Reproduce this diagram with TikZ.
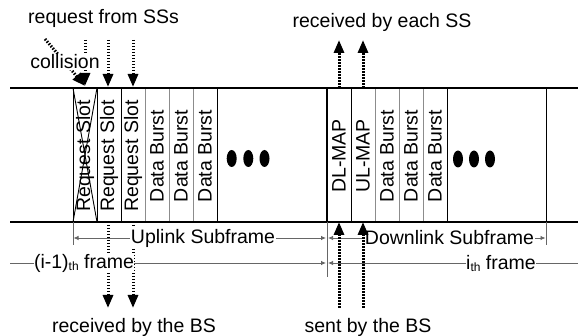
\documentclass[tikz,border=0pt]{standalone}
\usepackage{fontspec}
\setmainfont{Liberation Sans}
\usetikzlibrary{arrows.meta}
\newcommand{\thsub}{\raisebox{-2pt}{\fontsize{12}{12}\selectfont th}}
\begin{document}
\begin{tikzpicture}[x=1pt,y=-1pt,
  lbl/.style={font=\fontsize{19.5}{20}\selectfont, inner sep=1pt},
  wlbl/.style={lbl, fill=white, inner sep=0.5pt},
  slottxt/.style={font=\fontsize{19.5}{20}\selectfont, rotate=90, inner sep=0pt},
  bigline/.style={line width=2.8pt},
  sepline/.style={line width=0.9pt},
  gsepline/.style={line width=0.9pt, draw=black!45},
  dimline/.style={line width=0.8pt, draw=black!60},
  dimtip/.style={dimline, -{Latex[length=5pt,width=4.5pt]}},
  sig/.style={line width=3pt, dash pattern=on 1.5pt off 1.5pt, -{Triangle[length=13pt,width=10pt]}},
  dotmark/.style={fill=black}
]
\useasboundingbox (0,0) rectangle (578,336);

% ---- frame structure ----
\coordinate (tl) at (10,88);
\coordinate (tr) at (578,88);
\coordinate (bl) at (10,222);
\coordinate (br) at (578,222);

% slot separators (uplink)
\draw[sepline] (73,88) -- (73,222);
\draw[sepline] (97,88) -- (97,222);
\draw[sepline] (121,88) -- (121,222);
\draw[gsepline] (145,88) -- (145,222);
\draw[gsepline] (169,88) -- (169,222);
\draw[gsepline] (193,88) -- (193,222);
\draw[sepline] (217,88) -- (217,222);
% collision cross
\draw[sepline] (73,88) -- (97,222);
\draw[sepline] (97,88) -- (73,222);
% downlink separators
\draw[line width=2.5pt] (327,88) -- (327,222);
\draw[sepline] (351,88) -- (351,222);
\draw[gsepline] (375,88) -- (375,222);
\draw[gsepline] (399,88) -- (399,222);
\draw[gsepline] (423,88) -- (423,222);
\draw[sepline] (447,88) -- (447,222);
\draw[sepline] (546,88) -- (546,222);

\draw[bigline] (tl) -- (tr);
\draw[bigline] (bl) -- (br);

% slot texts
\node[slottxt] (s1) at (85,156) {Request Slot};
\node[slottxt] (s2) at (109,156) {Request Slot};
\node[slottxt] (s3) at (133,156) {Request Slot};
\node[slottxt] (s4) at (157,156) {Data Burst};
\node[slottxt] (s5) at (181,156) {Data Burst};
\node[slottxt] (s6) at (205,156) {Data Burst};
\node[slottxt] (d1) at (339,156) {DL-MAP};
\node[slottxt] (d2) at (363,156) {UL-MAP};
\node[slottxt] (d3) at (387,156) {Data Burst};
\node[slottxt] (d4) at (411,156) {Data Burst};
\node[slottxt] (d5) at (435,156) {Data Burst};

% ellipsis dots
\fill[dotmark] (231.7,158.5) ellipse [x radius=5, y radius=8.5];
\fill[dotmark] (248.3,158.5) ellipse [x radius=5, y radius=8.5];
\fill[dotmark] (264.5,158.5) ellipse [x radius=5, y radius=8.5];
\fill[dotmark] (458,159) ellipse [x radius=5, y radius=8.5];
\fill[dotmark] (474,159) ellipse [x radius=5, y radius=8.5];
\fill[dotmark] (490,159) ellipse [x radius=5, y radius=8.5];

% ---- signal arrows (uplink) ----
\coordinate (c0) at (45,39);
\coordinate (c1) at (85,86);
\coordinate (v0) at (85,40);
\coordinate (r1a) at (108,40);
\coordinate (r1b) at (108,87);
\coordinate (r2a) at (133,40);
\coordinate (r2b) at (133,87);
\coordinate (b1a) at (108,222);
\coordinate (b1b) at (108,308);
\coordinate (b2a) at (133,222);
\coordinate (b2b) at (133,308);
\draw[sig] (c0) -- (c1);
\draw[sig] (v0) -- (c1);
\draw[sig] (r1a) -- (r1b);
\draw[sig] (r2a) -- (r2b);
\draw[sig] (b1a) -- (b1b);
\draw[sig] (b2a) -- (b2b);

% ---- dimension lines ----
\draw[dimline] (73,222) -- (73,245);
\draw[dimline] (327,222) -- (327,277);
\draw[dimline] (546,222) -- (546,245);
\coordinate (ul0) at (73.5,238);
\coordinate (ul1) at (326,238);
\coordinate (dl0) at (328,238);
\coordinate (dl1) at (545.5,238);
\coordinate (fr0) at (10,263);
\coordinate (fr1) at (326,263);
\coordinate (fr2) at (328,263);
\coordinate (fr3) at (578,263);
\draw[dimline, {Latex[length=5pt,width=4.5pt]}-{Latex[length=5pt,width=4.5pt]}] (ul0) -- (ul1);
\draw[dimline, {Latex[length=5pt,width=4.5pt]}-{Latex[length=5pt,width=4.5pt]}] (dl0) -- (dl1);
\draw[dimtip] (fr0) -- (fr1);
\draw[dimline, {Latex[length=5pt,width=4.5pt]}-] (fr2) -- (fr3);

\node[wlbl] (ulbl) at (203,238) {Uplink Subframe};
\node[wlbl] (dlbl) at (449.5,238) {Downlink Subframe};
\node[wlbl] (f0lbl) at (84,263) {(i-1)\thsub{} frame};
\node[wlbl] (f1lbl) at (501,263) {i\thsub{} frame};

% ---- signal arrows (downlink) ----
\coordinate (u1a) at (339,308);
\coordinate (u1b) at (339,222);
\coordinate (u2a) at (363,308);
\coordinate (u2b) at (363,222);
\coordinate (t1a) at (339,88);
\coordinate (t1b) at (339,40);
\coordinate (t2a) at (363,88);
\coordinate (t2b) at (363,40);
\draw[sig] (u1a) -- (u1b);
\draw[sig] (u2a) -- (u2b);
\draw[sig] (t1a) -- (t1b);
\draw[sig] (t2a) -- (t2b);

% ---- labels ----
\node[wlbl] (coll) at (65,62) {collision};
\node[lbl] (req) at (103.5,18) {request from SSs};
\node[lbl] (rcv) at (382,22) {received by each SS};
\node[lbl] (rbs) at (134,327) {received by the BS};
\node[lbl] (sbs) at (368,327) {sent by the BS};
\end{tikzpicture}
\end{document}
